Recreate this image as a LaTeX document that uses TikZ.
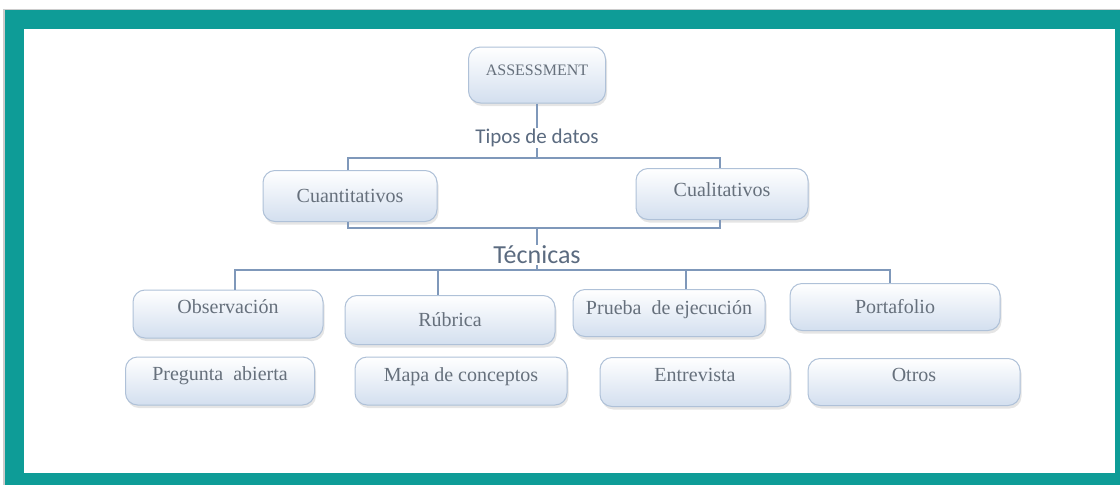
\documentclass[tikz,border=0pt]{standalone}
\usepackage{fontspec}
\setmainfont{Liberation Serif}
\newfontfamily\labfont{Carlito}
\usetikzlibrary{shadows,calc}
\definecolor{teal1}{HTML}{0E9C97}
\definecolor{boxtxt}{HTML}{66707C}
\definecolor{boxedge}{HTML}{AFC1D8}
\definecolor{boxbot}{HTML}{D3DFEF}
\definecolor{conn}{HTML}{7F98BA}
\definecolor{labtxt}{HTML}{5B6B80}
\tikzset{
  boxnode/.style={draw=boxedge, line width=1pt, rounded corners=12pt,
    top color=white, bottom color=boxbot, text=boxtxt,
    font=\fontsize{20}{23}\selectfont, align=center, inner sep=2pt,
    drop shadow={opacity=0.2, shadow xshift=1.5pt, shadow yshift=-3pt}},
  raised/.style={text depth=#1},
  labnode/.style={text=labtxt, inner sep=1pt},
  connline/.style={draw=conn, line width=1.6pt}
}
\begin{document}
\begin{tikzpicture}[x=1pt,y=-1pt]
\useasboundingbox (0,0) rectangle (1120,485);
\fill[white] (0,0) rectangle (1120,485);
\fill[black!20] (3,9) rectangle (1120,485);
\fill[teal1] (5,10) rectangle (1120,485);
\fill[white] (24,29) rectangle (1115,473);

\node[boxnode, minimum width=137, minimum height=56, font=\fontsize{16}{19}\selectfont, raised=10pt] (assess) at (537,75) {ASSESSMENT};
\node[labnode, font=\labfont\fontsize{21}{24}\selectfont] (tipos) at (537,138) {Tipos de datos};
\node[boxnode, minimum width=174, minimum height=51] (cuant) at (350,196) {Cuantitativos};
\node[boxnode, minimum width=172, minimum height=51, raised=8pt] (cual) at (722,194) {Cualitativos};
\node[labnode, font=\labfont\fontsize{26}{30}\selectfont] (tec) at (537,255) {Técnicas};

\node[boxnode, minimum width=190, minimum height=48, raised=14pt] (obs) at (228,314) {Observación};
\node[boxnode, minimum width=210, minimum height=49] (rub) at (450,320) {Rúbrica};
\node[boxnode, minimum width=192, minimum height=47, raised=10pt] (prueba) at (669,313) {Prueba\ \ de ejecución};
\node[boxnode, minimum width=210, minimum height=47] (port) at (895,307) {Portafolio};

\node[boxnode, minimum width=189, minimum height=48, raised=14pt] (preg) at (220,381) {Pregunta\ \ abierta};
\node[boxnode, minimum width=212, minimum height=48, raised=12pt] (mapa) at (461,381) {Mapa de conceptos};
\node[boxnode, minimum width=190, minimum height=49, raised=14pt] (entre) at (695,382) {Entrevista};
\node[boxnode, minimum width=212, minimum height=47, raised=14pt] (otros) at (914,382) {Otros};

\coordinate (b1) at (537,158);
\coordinate (b2) at (537,228);
\coordinate (b3) at (537,270);

\draw[connline] (assess.south) -- (tipos.north);
\draw[connline] (tipos.south) -- (b1);
\draw[connline] ([xshift=-2]cuant.north) |- (b1) -| ([xshift=-2]cual.north);
\draw[connline] ([xshift=-2]cuant.south) |- (b2) -| ([xshift=-2]cual.south);
\draw[connline] (b2) -- (tec.north);
\draw[connline] (tec.south) -- (b3);
\draw[connline] ([xshift=7]obs.north) |- (b3) -| ([xshift=-5]port.north);
\draw[connline] ([xshift=-12]rub.north) -- ([xshift=-12]rub.north |- b3);
\draw[connline] ([xshift=17]prueba.north) -- ([xshift=17]prueba.north |- b3);
\end{tikzpicture}
\end{document}
